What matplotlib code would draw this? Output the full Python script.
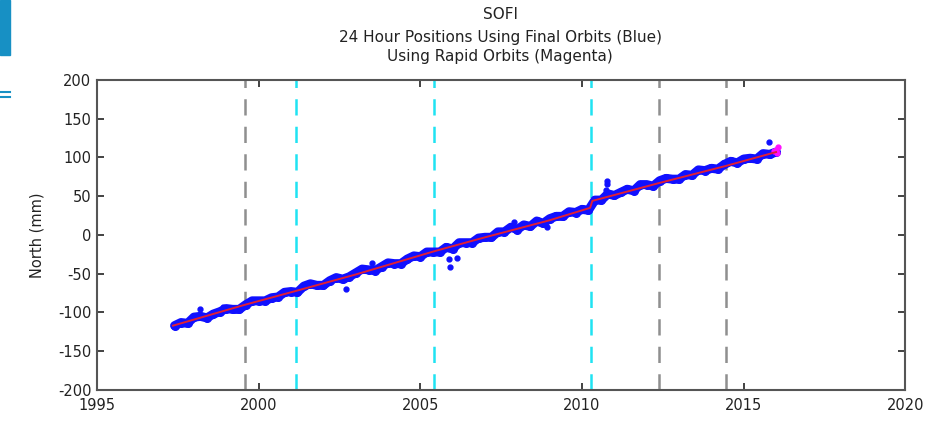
import matplotlib.pyplot as plt
from matplotlib.patches import Rectangle
from matplotlib.lines import Line2D

plt.rcParams["font.family"] = ["DejaVu Sans"]
plt.rcParams["axes.unicode_minus"] = False

# Final orbit daily positions (0.2 yr steps)
blue_years = [
    1997.4, 1997.6, 1997.8, 1998.0, 1998.2, 1998.4, 1998.6, 1998.8, 1999.0, 1999.2,
    1999.4, 1999.6, 1999.8, 2000.0, 2000.2, 2000.4, 2000.6, 2000.8, 2001.0, 2001.2,
    2001.4, 2001.6, 2001.8, 2002.0, 2002.2, 2002.4, 2002.6, 2002.8, 2003.0, 2003.2,
    2003.4, 2003.6, 2003.8, 2004.0, 2004.2, 2004.4, 2004.6, 2004.8, 2005.0, 2005.2,
    2005.4, 2005.6, 2005.8, 2006.0, 2006.2, 2006.4, 2006.6, 2006.8, 2007.0, 2007.2,
    2007.4, 2007.6, 2007.8, 2008.0, 2008.2, 2008.4, 2008.6, 2008.8, 2009.0, 2009.2,
    2009.4, 2009.6, 2009.8, 2010.0, 2010.2, 2010.4, 2010.6, 2010.8, 2011.0, 2011.2,
    2011.4, 2011.6, 2011.8, 2012.0, 2012.2, 2012.4, 2012.6, 2012.8, 2013.0, 2013.2,
    2013.4, 2013.6, 2013.8, 2014.0, 2014.2, 2014.4, 2014.6, 2014.8, 2015.0, 2015.2,
    2015.4, 2015.6, 2015.8, 2016.0,
]
blue_north = [
    -117, -113, -114, -106, -105, -107, -102, -99, -95, -96,
    -96, -90, -85, -85, -85, -81, -80, -74, -73, -74,
    -66, -63, -65, -65, -59, -55, -57, -54, -49, -44,
    -45, -46, -41, -36, -37, -37, -31, -27, -28, -22,
    -22, -22, -16, -18, -10, -10, -10, -4, -3, -3,
    4, 4, 10, 7, 13, 11, 18, 15, 21, 24,
    24, 30, 29, 33, 32, 45, 45, 53, 51, 55,
    59, 57, 65, 65, 63, 70, 73, 72, 72, 78,
    77, 84, 83, 86, 85, 91, 95, 93, 98, 99,
    98, 105, 104, 107,
]

# scattered outliers
out_years = [1998.2, 1998.9, 2002.7, 2003.5, 2005.9, 2005.92, 2006.14, 2007.9,
             2008.92, 2010.75, 2010.77, 2010.78, 2015.77]
out_north = [-95, -93, -70, -36, -31, -41, -30, 17, 10, 58, 66, 70, 120]

# fitted trend (red)
red_years = [1997.35, 1999.58, 2001.17, 2003.0, 2005.43, 2007.0, 2009.0, 2010.25,
             2010.32, 2012.38, 2014.44, 2016.0]
red_north = [-117, -90, -72, -51, -21, -3, 19, 35, 44, 67, 89, 107]

# rapid orbits (magenta)
mag_years = [2015.95, 2016.0, 2016.02, 2016.05]
mag_north = [108, 110, 106, 113]

# event lines
gray_events = [1999.58, 2012.38, 2014.44]
cyan_events = [2001.17, 2005.43, 2010.28]

fig = plt.figure(figsize=(9.35, 4.25), dpi=100)
ax = fig.add_axes([0.1037, 0.0824, 0.8646, 0.7294])

for yr in gray_events:
    ax.axvline(yr, color="#8f8f8f", lw=1.8, dashes=(6.5, 4.5))
for yr in cyan_events:
    ax.axvline(yr, color="#1fe3f2", lw=1.8, dashes=(6.5, 4.5))

ax.plot(blue_years, blue_north, color="#1010ff", lw=6.5, marker="o", ms=5.5,
        solid_capstyle="round", solid_joinstyle="round")
ax.plot(out_years, out_north, "o", color="#1010ff", ms=3.5, lw=0)
ax.plot(mag_years, mag_north, "o", color="#ff10ff", ms=3.5, lw=0)
ax.plot(red_years, red_north, color="#e01f35", lw=1.4)

ax.set_xlim(1995, 2020)
ax.set_ylim(-200, 200)
ax.set_xticks(range(1995, 2021, 5))
ax.set_yticks(range(-200, 201, 50))
ax.tick_params(direction="in", length=5, width=1.2, top=True, right=True,
               labelsize=10.5, colors="#222222")
ax.tick_params(axis="x", pad=6)
ax.tick_params(axis="y", pad=4)
for sp in ax.spines.values():
    sp.set_color("#555555")
    sp.set_linewidth(1.5)
ax.set_ylabel("North (mm)", fontsize=10.5, color="#222222", labelpad=10)

fig.text(0.535, 0.967, "SOFI", ha="center", va="center", fontsize=11, color="#222222")
fig.text(0.535, 0.911, "24 Hour Positions Using Final Orbits (Blue)", ha="center",
         va="center", fontsize=11, color="#222222")
fig.text(0.535, 0.866, "Using Rapid Orbits (Magenta)", ha="center", va="center",
         fontsize=11, color="#222222")

# slide decoration on the left edge
fig.patches.append(Rectangle((0, 1 - 55 / 425), 10 / 935, 55 / 425,
                             transform=fig.transFigure, color="#1790c4"))
for yy in (92, 97):
    fig.lines.append(Line2D([0, 10 / 935], [1 - yy / 425] * 2, transform=fig.transFigure,
                            color="#1790c4", lw=1.5))

fig.savefig("out.png", dpi=100)
